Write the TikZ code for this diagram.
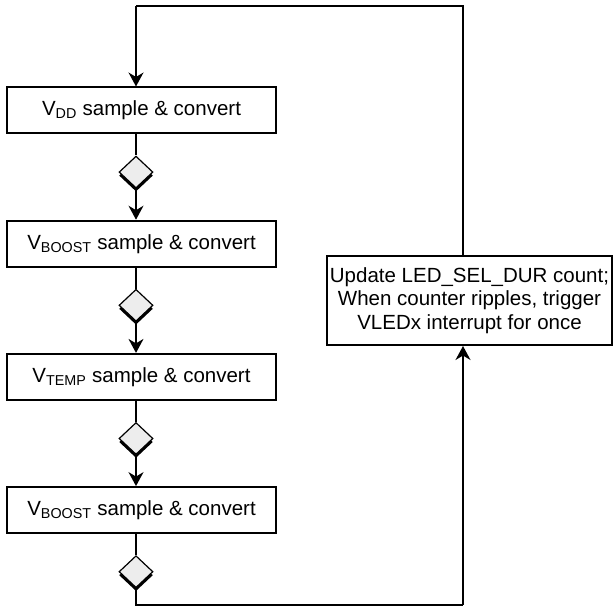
\documentclass[tikz,border=0pt]{standalone}
\usepackage{fontspec}
\setmainfont{Liberation Sans}
\usepackage{tikz}
\usetikzlibrary{shapes.geometric,arrows.meta,positioning,shadows}

\begin{document}
\begin{tikzpicture}[
        x=1pt, y=-1pt,
        node distance=21pt,
        % Plain boxes, grey decision diamonds with a hard black shadow.
        box/.style={rectangle, draw, line width=2pt, fill=white, text=black,
            minimum width=269pt,
            minimum height=46pt,
            align=center, font=\fontsize{20.5}{23.6}\selectfont},
        decide/.style={diamond, draw, line width=1.2pt, fill=black!7,
            aspect=1, inner sep=0pt, minimum width=34pt, minimum height=32pt,
            drop shadow={shadow xshift=0pt, shadow yshift=-3.5pt, fill=black, opacity=1}},
        conn/.style={line width=1.6pt},
        arrow/.style={conn, -{Stealth[length=14pt, width=15pt, inset=4.5pt]}}
    ]
        \useasboundingbox (0,0) rectangle (613,607);

        \node[box] (node1) at (141.5,110.5) {V\textsubscript{DD} sample \& convert};
        \node[decide, below=21pt of node1, xshift=-5.5pt] (dia1) {};
        \node[box, below=31pt of dia1, xshift=5.5pt] (node2) {V\textsubscript{BOOST} sample \& convert};
        \node[decide, below=21pt of node2, xshift=-5.5pt] (dia2) {};
        \node[box, below=31pt of dia2, xshift=5.5pt] (node3) {V\textsubscript{TEMP} sample \& convert};
        \node[decide, below=21pt of node3, xshift=-5.5pt] (dia3) {};
        \node[box, below=31pt of dia3, xshift=5.5pt] (node4) {V\textsubscript{BOOST} sample \& convert};
        \node[decide, below=21pt of node4, xshift=-5.5pt] (dia4) {};

        \node[box, minimum width=283pt, minimum height=89pt] (node5) at (469.5,300.5)
            {Update LED\_SEL\_DUR count;\\ When counter ripples, trigger\\ VLEDx interrupt for once};

        \coordinate (topleft) at (136,6);
        \coordinate (topright) at (463,6);
        \coordinate (botleft) at (136,605);
        \coordinate (botright) at (463,605);

        % Connections
        \foreach \a/\b in {node1/dia1, node2/dia2, node3/dia3, node4/dia4}
            \draw[conn] (\a.south -| \b) -- (\b.north);
        \foreach \a/\b in {dia1/node2, dia2/node3, dia3/node4}
            \draw[arrow] (\a.south) -- (\b.north -| \a);
        \draw[conn] (node5.north -| topright) -- (topright) -- (topleft);
        \draw[arrow] (topleft) -- (node1.north -| topleft);
        \draw[conn] (dia4.south) -- (botleft) -- (botright);
        \draw[arrow] (botright) -- (node5.south -| botright);
    \end{tikzpicture}
\end{document}
